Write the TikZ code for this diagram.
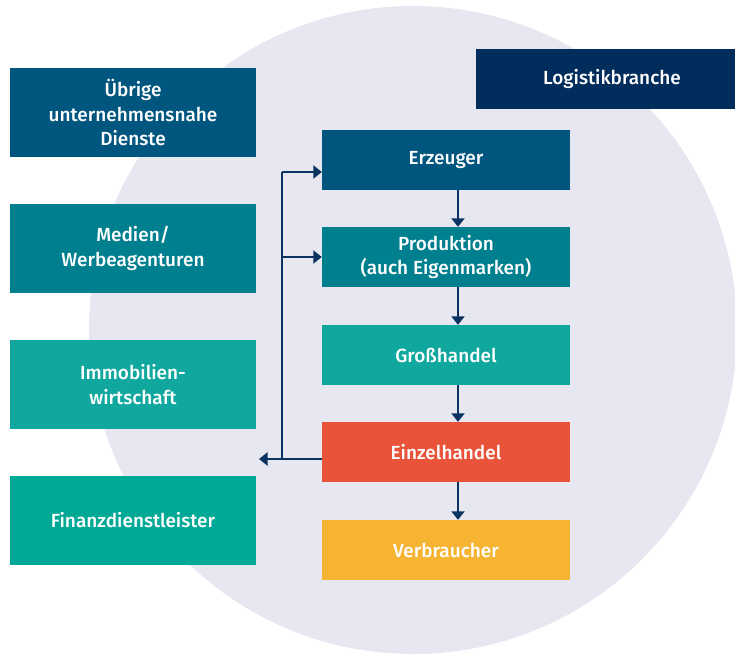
\documentclass[tikz,border=0pt]{standalone}
\usepackage{fontspec}
\setmainfont{Fira Sans Medium}
\usetikzlibrary{arrows.meta}
\definecolor{circ}{HTML}{E6E7F0}
\definecolor{cA}{HTML}{00567F}
\definecolor{cB}{HTML}{00808F}
\definecolor{cC}{HTML}{10A89E}
\definecolor{cD}{HTML}{00A896}
\definecolor{cE}{HTML}{E8533A}
\definecolor{cF}{HTML}{F7B432}
\definecolor{cG}{HTML}{002D5C}
\definecolor{cLine}{HTML}{0B3361}
\tikzset{
  box/.style={rectangle, inner sep=0pt, text=white, align=center,
    font=\fontsize{19}{24.5}\selectfont},
  leftbox/.style={box, minimum width=246pt, minimum height=89pt},
  rightbox/.style={box, minimum width=248pt, minimum height=60pt},
  ln/.style={draw=cLine, line width=2pt},
  arr/.style={ln, -{Triangle[length=8.5pt,width=13pt]}},
}
\begin{document}
\begin{tikzpicture}[x=1pt,y=-1pt]
\useasboundingbox (0,0) rectangle (735,654);
\begin{scope}
\clip (0,0) rectangle (735,654);
\fill[circ] (413,330) circle (324pt);
% logistics (runs past the right edge)
\node[box, fill=cG, minimum width=272pt, minimum height=60pt] (log) at (612,79) {Logistikbranche};
\end{scope}
% left column
\node[leftbox, fill=cA] (ub) at (133,112.5) {Übrige\\unternehmensnahe\\Dienste};
\node[leftbox, fill=cB] (med) at (133,248.5) {Medien/\\Werbeagenturen};
\node[leftbox, fill=cC] (imm) at (133,384.5) {Immobilien-\\wirtschaft};
\node[leftbox, fill=cD] (fin) at (133,520.5) {Finanzdienstleister};
% right column
\node[rightbox, fill=cA] (erz) at (446,160) {Erzeuger};
\node[rightbox, fill=cB] (prod) at (446,257) {Produktion\\(auch Eigenmarken)};
\node[rightbox, fill=cC] (gro) at (446,355) {Großhandel};
\node[rightbox, fill=cE] (ein) at (446,452) {Einzelhandel};
\node[rightbox, fill=cF] (ver) at (446,550) {Verbraucher};
% vertical arrows
\draw[arr] ([xshift=12pt]erz.south) -- ([xshift=12pt]prod.north);
\draw[arr] ([xshift=12pt]prod.south) -- ([xshift=12pt]gro.north);
\draw[arr] ([xshift=12pt]gro.south) -- ([xshift=12pt]ein.north);
\draw[arr] ([xshift=12pt]ein.south) -- ([xshift=12pt]ver.north);
% feedback connector
\coordinate (t) at (259,459);
\coordinate (ja) at (282,172);
\coordinate (jb) at (282,257);
\draw[arr] (ein.west |- t) -- (t);
\draw[ln] (t -| ja) -- (ja);
\draw[arr] (ja) -- (ja -| erz.west);
\draw[arr] (jb) -- (jb -| prod.west);
\end{tikzpicture}
\end{document}
